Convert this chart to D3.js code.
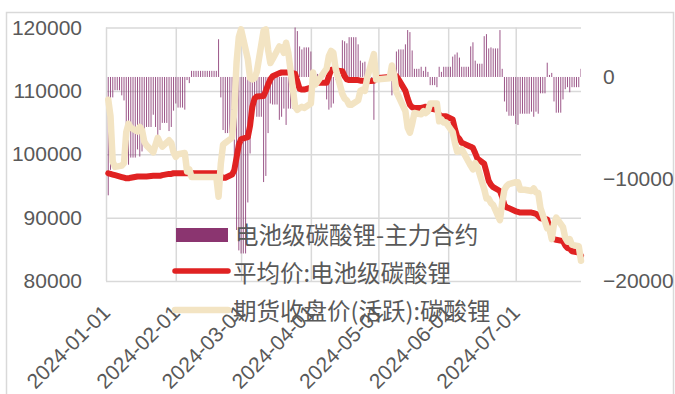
<!DOCTYPE html>
<html><head><meta charset="utf-8">
<script src="https://cdn.jsdelivr.net/npm/d3@7"></script>
<style>body{margin:0;background:#fff;} svg{display:block;}</style>
</head><body><svg id="c" width="675" height="394"></svg>
<script>
// ---- data ----
const seriesNames = ["电池级碳酸锂-主力合约", "平均价:电池级碳酸锂", "期货收盘价(活跃):碳酸锂"];
const leftTicks = [80000, 90000, 100000, 110000, 120000];
const rightTicks = [-20000, -10000, 0];
const monthTicks = ["2024-01-01","2024-02-01","2024-03-01","2024-04-01","2024-05-01","2024-06-01","2024-07-01"];

const tradeDates = ["01-02","01-03","01-04","01-05","01-08","01-09","01-10","01-11","01-12","01-15","01-16","01-17","01-18","01-19","01-22","01-23","01-24","01-25","01-26","01-29","01-30","01-31",
"02-01","02-02","02-05","02-06","02-07","02-08","02-19","02-20","02-21","02-22","02-23","02-26","02-27","02-28","02-29",
"03-01","03-04","03-05","03-06","03-07","03-08","03-11","03-12","03-13","03-14","03-15","03-18","03-19","03-20","03-21","03-22","03-25","03-26","03-27","03-28","03-29",
"04-01","04-02","04-03","04-08","04-09","04-10","04-11","04-12","04-15","04-16","04-17","04-18","04-19","04-22","04-23","04-24","04-25","04-26","04-29","04-30",
"05-06","05-07","05-08","05-09","05-10","05-13","05-14","05-15","05-16","05-17","05-20","05-21","05-22","05-23","05-24","05-27","05-28","05-29","05-30","05-31",
"06-03","06-04","06-05","06-06","06-07","06-11","06-12","06-13","06-14","06-17","06-18","06-19","06-20","06-21","06-24","06-25","06-26","06-27","06-28",
"07-01","07-02","07-03","07-04","07-05","07-08","07-09","07-10","07-11","07-12","07-15","07-16","07-17","07-18","07-19","07-22","07-23","07-24","07-25","07-26","07-29","07-30"];

const spotAvg = [97000,96900,96800,96700,96400,96300,96200,96200,96300,96500,96500,96500,96500,96500,96600,96600,96600,96600,96700,96900,96900,97000,
97000,97000,97000,97000,97000,97000,97000,97000,96500,96300,96300,96800,97500,99500,101500,
102400,102700,104500,107500,108800,109100,109200,110000,111000,111800,112300,112800,112900,112900,112900,112900,112700,111500,110300,110200,110200,
110500,111200,111300,111300,112300,113300,113400,113200,113100,112300,111800,111700,111700,111700,111600,111600,111500,111500,111600,112000,
112200,112200,112200,112300,111800,110000,108800,107800,107400,107300,107300,107400,107500,107300,107200,107000,106200,106000,106000,106000,
105500,104000,102800,102400,101800,101200,101000,100200,99300,98500,97200,95800,95200,94800,94200,93200,92000,91600,91500,
91000,90900,90800,90800,90800,90800,90700,90600,90300,89900,89700,88500,87000,86600,86500,86300,85600,85200,85100,84700,84500,84000];

const futuresClose = [108600,106000,98800,98000,98200,98600,103500,104800,104200,103600,104300,103800,102000,101400,100300,101500,102600,101800,101200,102200,101800,100300,
99600,100000,100200,97300,97600,96400,96400,93300,98500,101500,101800,102600,107000,114500,118500,
119700,115000,112000,111800,112000,113000,119500,119700,116500,114400,115000,117000,116800,116000,117600,116000,107500,107000,107300,107500,107300,
108000,112900,111000,113500,115500,116300,116000,113500,109500,108800,108500,107800,107800,108500,110000,110200,110000,112000,115800,111800,
112000,114000,112500,109800,109100,106800,104200,103400,104800,106500,106300,106800,106500,106800,108000,108000,105200,105500,105000,105000,
103500,101800,100400,100500,100800,98200,97600,98600,98000,94500,93000,93000,92300,92000,89600,92400,94400,95000,95300,
95600,95600,94400,94400,94400,94200,94600,94000,93900,91500,88300,88300,86600,89000,90000,88500,86800,86200,86600,85700,85500,83200];

// basis, one value per calendar day starting 2024-01-02
const basisStart = "2024-01-02";
const basis = [
-11600,-9100,-2000,-1300,-1300,-1300,-1800,-2300,-7300,-8600,-7900,-7900,-7900,-7100,-7800,-7300,-5500,-4900,-4900,-4900,-3700,-4900,-6000,-5200,-4500,-4500,-4500,-5300,-4900,-3300,
-2600,-3000,-3000,-3000,-3200,-300,-600,600,600,600,600,600,600,600,600,600,600,600,600,3700,-2000,-5200,-5500,-5500,-5500,-5800,-9500,-15000,-17000,
-17300,-17300,-17300,-12300,-7500,-4300,-3200,-3900,-3900,-3900,-10300,-9700,-5500,-2600,-2700,-2700,-2700,-4200,-3900,-3100,-4700,-3100,-3100,-3100,5200,4500,3000,2700,2900,2900,2900,
2500,-1700,300,300,300,300,300,-2200,-3200,-3000,-2600,-300,-300,-300,3600,3500,3300,3900,3900,3900,3900,3200,1600,1400,1500,-500,-500,-500,-4200,200,
200,200,200,200,200,200,-1800,-300,2500,2700,2700,2700,3200,4600,4400,2600,800,800,800,1000,600,1000,500,-800,-800,-800,-1000,1000,500,1000,1000,
1000,1000,2000,2200,2400,1900,1000,1000,1000,1000,3000,3400,1600,1300,1300,1300,4000,4200,2800,2900,2800,2800,2800,4600,800,-2400,-3400,-3800,-3800,-3800,
-4600,-4700,-3600,-3600,-3600,-3600,-3600,-3400,-3900,-3400,-3600,-1600,-1600,-1600,1400,200,400,-2400,-3500,-3500,-3500,-2200,-1200,-1000,-1500,-1000,-1000,-1000,-1000,800];

// ---- chart ----
const parse = d3.timeParse("%Y-%m-%d");
const svg = d3.select("#c");
const L = 106, R = 581, T = 27.5, B = 281;
const x = d3.scaleTime().domain([parse("2024-01-01"), parse("2024-07-30")]).range([L, R]);
const yL = d3.scaleLinear().domain([80000, 120000]).range([B, T]);
const yR = d3.scaleLinear().domain([-20000, 4850]).range([B, T]);
const grid = "#d9d9d9", txt = "#595959";
const axisFont = "'Liberation Sans', Arial, sans-serif";
const cjkFont = "'Noto Sans CJK SC', 'Noto Sans', sans-serif";

svg.append("rect").attr("x", 6.5).attr("y", 12.5).attr("width", 667).attr("height", 400)
  .attr("fill", "none").attr("stroke", grid).attr("stroke-width", 1.5);

svg.append("defs").append("clipPath").attr("id", "plot")
  .append("rect").attr("x", L).attr("y", T).attr("width", R - L).attr("height", B - T);

// left axis + horizontal grid
const gL = svg.append("g").attr("transform", `translate(${L},0)`)
  .call(d3.axisLeft(yL).tickValues(leftTicks).tickFormat(d3.format("d")).tickSize(-(R - L)).tickPadding(24));
gL.select(".domain").remove();
gL.selectAll("line").attr("stroke", grid).attr("stroke-width", 1.5);
gL.selectAll("text").attr("fill", txt).style("font", `21px ${axisFont}`);

// bottom axis + vertical grid
const gB = svg.append("g").attr("transform", `translate(0,${B})`)
  .call(d3.axisBottom(x).tickValues(monthTicks.map(parse)).tickFormat(d3.timeFormat("%Y-%m-%d")).tickSize(-(B - T)));
gB.select(".domain").remove();
gB.selectAll("line").attr("stroke", grid).attr("stroke-width", 1.5);
gB.selectAll("text").attr("fill", txt).style("font", `21px ${axisFont}`)
  .attr("x", 0).attr("y", 0).attr("dy", 0).attr("text-anchor", "end")
  .attr("transform", "translate(5,33) rotate(-45)");

// right axis
const gR = svg.append("g").attr("transform", `translate(603,0)`)
  .call(d3.axisRight(yR).tickValues(rightTicks).tickFormat(d3.format("d")).tickSize(0).tickPadding(0));
gR.select(".domain").remove();
gR.selectAll("text").attr("fill", txt).style("font", `21px ${axisFont}`);

// bars (basis)
const barData = basis.map((v, i) => ({ date: d3.timeDay.offset(parse(basisStart), i), v }));
const bw = 1.0;
svg.append("g").attr("clip-path", "url(#plot)")
  .selectAll("rect").data(barData).join("rect")
  .attr("x", d => x(d.date) - bw / 2)
  .attr("width", bw)
  .attr("y", d => Math.min(yR(d.v), yR(0)))
  .attr("height", d => Math.abs(yR(d.v) - yR(0)))
  .attr("fill", "#8b3a74").attr("fill-opacity", 0.85);

// lines
const dates = tradeDates.map(s => parse("2024-" + s));
const line = d3.line().x(d => x(d.date)).y(d => yL(d.v));
const spotData = spotAvg.map((v, i) => ({ date: dates[i], v }));
const futData = futuresClose.map((v, i) => ({ date: dates[i], v }));
svg.append("path").datum(spotData).attr("d", line).attr("fill", "none")
  .attr("stroke", "#e02222").attr("stroke-width", 6).attr("stroke-linejoin", "round").attr("stroke-linecap", "round");
svg.append("path").datum(futData).attr("d", line).attr("fill", "none")
  .attr("stroke", "#f3e4c3").attr("stroke-width", 6.5).attr("stroke-linejoin", "round").attr("stroke-linecap", "round");

// legend
const lg = svg.append("g");
lg.append("rect").attr("x", 176).attr("y", 228).attr("width", 52).attr("height", 14).attr("fill", "#8b3570");
lg.append("line").attr("x1", 175).attr("x2", 228).attr("y1", 271).attr("y2", 271)
  .attr("stroke", "#e02222").attr("stroke-width", 5.5).attr("stroke-linecap", "round");
lg.append("line").attr("x1", 175).attr("x2", 228).attr("y1", 310).attr("y2", 310)
  .attr("stroke", "#f3e4c3").attr("stroke-width", 6.5).attr("stroke-linecap", "round");
const lx = [235, 233, 233], ly = [234, 272, 310];
seriesNames.forEach((n, i) => {
  lg.append("text").attr("x", lx[i]).attr("y", ly[i]).attr("dominant-baseline", "central")
    .attr("fill", txt).style("font", `23.5px ${cjkFont}`).text(n);
});
</script></body></html>
